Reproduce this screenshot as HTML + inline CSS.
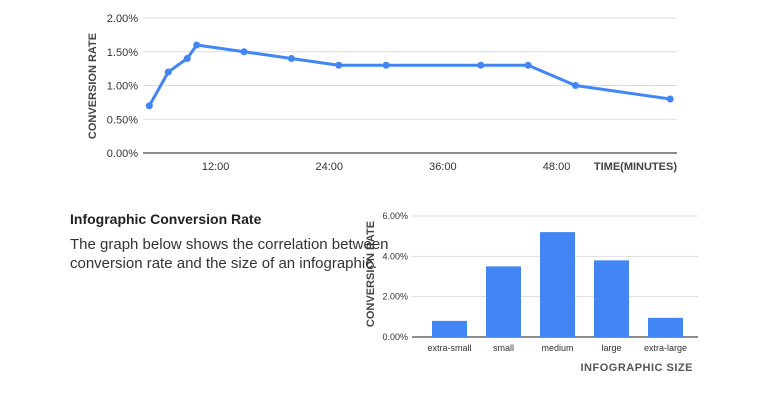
<!DOCTYPE html>
<html><head><meta charset="utf-8"><style>
body{margin:0;background:#fff;width:780px;height:406px;overflow:hidden;font-family:"Liberation Sans",sans-serif;position:relative}
.t{position:absolute;left:70px;color:#222}
</style></head><body>
<svg id="c1" width="780" height="406" style="position:absolute;left:0;top:0"></svg>
<div class="t" style="top:211px;font-size:14px;font-weight:bold">Infographic Conversion Rate</div>
<div class="t" style="top:235px;font-size:15px;line-height:19px;width:320px;color:#333">The graph below shows the correlation between conversion rate and the size of an infographic.</div>
<script>
const lineMinutes=[5,7,9,10,15,20,25,30,40,45,50,60];
const lineRates=[0.7,1.2,1.4,1.6,1.5,1.4,1.3,1.3,1.3,1.3,1.0,0.8];
const lineYTicks=[0,0.5,1,1.5,2];
const lineXTicks=[12,24,36,48];
const barCats=["extra-small","small","medium","large","extra-large"];
const barVals=[0.8,3.5,5.2,3.8,0.95];
const barYTicks=[0,2,4,6];
const NS="http://www.w3.org/2000/svg";
const svg=document.getElementById('c1');
function mk(tag,attrs,parent){const e=document.createElementNS(NS,tag);for(const k in attrs)e.setAttribute(k,attrs[k]);(parent||svg).appendChild(e);return e;}
// line chart
const lx=m=>102+9.47*m, ly=v=>153-v*67.5;
lineYTicks.forEach(v=>{
 const g=mk('line',{x1:143,x2:677,y1:ly(v),y2:ly(v),stroke:v===0?'#666':'#ddd','stroke-width':v===0?1.5:1});
 
 
 const t=mk('text',{x:138,y:ly(v)+4,'text-anchor':'end','font-size':11,fill:'#333'});t.textContent=v.toFixed(2)+'%';
 
 
});
lineXTicks.forEach(m=>{
 const t=mk('text',{x:lx(m),y:170,'text-anchor':'middle','font-size':11,fill:'#333'});t.textContent=m+':00';
 
 
});
let tt=mk('text',{x:677,y:170,'text-anchor':'end','font-size':11,'font-weight':'bold',fill:'#444'});tt.textContent='TIME(MINUTES)';


tt=mk('text',{x:0,y:0,'text-anchor':'middle','font-size':11,'font-weight':'bold',fill:'#444',transform:'translate(96,86) rotate(-90)'});tt.textContent='CONVERSION RATE';


const pl=mk('polyline',{points:lineMinutes.map((m,i)=>lx(m)+','+ly(lineRates[i])).join(' '),fill:'none',stroke:'#4285f4','stroke-width':3,'stroke-linejoin':'round'});


lineMinutes.forEach((m,i)=>{
 const c=mk('circle',{cx:lx(m),cy:ly(lineRates[i]),r:3.5,fill:'#4285f4'});
 
 
});
// bar chart
const by=v=>337-v*20.17, bx=i=>413+54*i;
barYTicks.forEach(v=>{
 const g=mk('line',{x1:412,x2:698,y1:by(v),y2:by(v),stroke:v===0?'#666':'#ddd','stroke-width':v===0?1.5:1});
 
 
 const t=mk('text',{x:408,y:by(v)+3,'text-anchor':'end','font-size':9,fill:'#333'});t.textContent=v.toFixed(2)+'%';
 
 
});
barCats.forEach((c,i)=>{
 const r=mk('rect',{x:bx(i)+19,y:by(barVals[i]),width:35,height:by(0)-by(barVals[i]),fill:'#4285f4'});
 
 
 const t=mk('text',{x:bx(i)+36.5,y:351,'text-anchor':'middle','font-size':9,fill:'#333'});t.textContent=c;
 
 
});
tt=mk('text',{x:693,y:371,'text-anchor':'end','font-size':11,'font-weight':'bold',fill:'#555','letter-spacing':'0.5'});tt.textContent='INFOGRAPHIC SIZE';


tt=mk('text',{x:0,y:0,'text-anchor':'middle','font-size':11,'font-weight':'bold',fill:'#444',transform:'translate(374,274) rotate(-90)'});tt.textContent='CONVERSION RATE';


</script>
</body></html>
